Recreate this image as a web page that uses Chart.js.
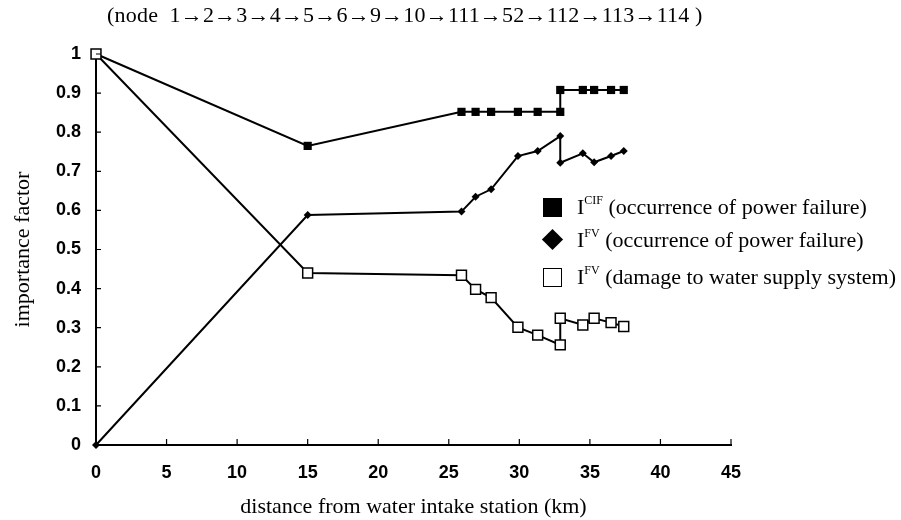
<!DOCTYPE html>
<html>
<head>
<meta charset="utf-8">
<script src="https://cdn.jsdelivr.net/npm/chart.js@4.4.1/dist/chart.umd.min.js"></script>
<style>
  body { margin: 0; background: #fff; }
  #wrap { position: relative; width: 901px; height: 520px; }
  #title {
    position: absolute; left: 107px; top: 2px;
    font: 22px "Liberation Serif"; letter-spacing: 0.2px; white-space: pre; color: #000;
  }
  .legend-row {
    position: absolute; left: 543px; height: 26px; line-height: 26px;
    font: 22px "Liberation Serif"; color: #000; white-space: pre;
  }
  .legend-row sup { font-size: 12px; vertical-align: 10px; line-height: 0; }
  .mk { position: absolute; left: 0; top: 50%; box-sizing: border-box; }
  .mk-sq { width: 19px; height: 19px; margin-top: -9px; background: #000; }
  .mk-dm { width: 15px; height: 15px; margin-top: -8px; margin-left: 2px; background: #000; transform: rotate(45deg); }
  .mk-open { width: 19px; height: 19px; margin-top: -9px; border: 1.5px solid #000; background: #fff; }
  .legend-row span.txt { margin-left: 34px; }
</style>
</head>
<body>
<div id="wrap">
  <canvas id="chart" width="901" height="520"></canvas>
  <div id="title">(node  1→2→3→4→5→6→9→10→111→52→112→113→114 )</div>
  <div class="legend-row" style="top:194px"><div class="mk mk-sq"></div><span class="txt">I<sup>CIF</sup> (occurrence of power failure)</span></div>
  <div class="legend-row" style="top:227px"><div class="mk mk-dm"></div><span class="txt">I<sup>FV</sup> (occurrence of power failure)</span></div>
  <div class="legend-row" style="top:264px"><div class="mk mk-open"></div><span class="txt">I<sup>FV</sup> (damage to water supply system)</span></div>
</div>
<script>
const distance_km = [0, 15, 25.9, 26.9, 28.0, 29.9, 31.3, 32.9, 32.9, 34.5, 35.3, 36.5, 37.4];
const cif_power = [1, 0.765, 0.852, 0.852, 0.852, 0.852, 0.852, 0.852, 0.908, 0.908, 0.908, 0.908, 0.908];
const fv_power = [0, 0.588, 0.597, 0.635, 0.654, 0.739, 0.752, 0.79, 0.722, 0.746, 0.723, 0.739, 0.752];
const fv_damage = [1, 0.44, 0.434, 0.398, 0.377, 0.301, 0.281, 0.256, 0.324, 0.307, 0.324, 0.313, 0.303];
const x_ticks = [0, 5, 10, 15, 20, 25, 30, 35, 40, 45];
const y_ticks = [0, 0.1, 0.2, 0.3, 0.4, 0.5, 0.6, 0.7, 0.8, 0.9, 1];

const toPoints = (values) => values.map((y, i) => ({ x: distance_km[i], y: y }));

// small tick marks pointing into the plot, like the original figure
const innerTicks = {
  id: "innerTicks",
  afterDraw: (chart) => {
    const { ctx, scales } = chart;
    const x = scales.x;
    const y = scales.y;
    ctx.save();
    ctx.strokeStyle = "#000";
    ctx.lineWidth = 1.2;
    ctx.beginPath();
    y_ticks.forEach((v) => {
      const py = y.getPixelForValue(v);
      ctx.moveTo(x.left, py);
      ctx.lineTo(x.left + 5, py);
    });
    x_ticks.forEach((v) => {
      const px = x.getPixelForValue(v);
      ctx.moveTo(px, y.bottom);
      ctx.lineTo(px, y.bottom - 6);
    });
    ctx.stroke();
    ctx.restore();
  },
};

const tickFont = { family: "Liberation Sans", size: 18, weight: "bold" };
const titleFont = { family: "Liberation Serif", size: 22 };

new Chart(document.getElementById("chart"), {
  type: "line",
  data: {
    datasets: [
      {
        label: "FV damage",
        data: toPoints(fv_damage),
        order: 0,
        borderColor: "#000",
        borderWidth: 2,
        pointStyle: "rect",
        pointRadius: 7,
        pointBorderWidth: 1.5,
        pointBackgroundColor: "#fff",
        pointBorderColor: "#000",
        clip: false,
      },
      {
        label: "FV power",
        data: toPoints(fv_power),
        order: 1,
        borderColor: "#000",
        borderWidth: 2,
        pointStyle: "rectRot",
        pointRadius: 4,
        pointBorderWidth: 0,
        pointBackgroundColor: "#000",
        clip: false,
      },
      {
        label: "CIF power",
        data: toPoints(cif_power),
        order: 2,
        borderColor: "#000",
        borderWidth: 2,
        pointStyle: "rect",
        pointRadius: 5.8,
        pointBorderWidth: 0,
        pointBackgroundColor: "#000",
        clip: false,
      },
    ],
  },
  options: {
    responsive: false,
    animation: false,
    layout: { padding: { left: 0, top: 54, right: 170, bottom: 0 } },
    plugins: { legend: { display: false }, tooltip: { enabled: false } },
    elements: { line: { tension: 0 } },
    scales: {
      x: {
        type: "linear",
        min: 0,
        max: 45,
        afterFit: (scale) => { scale.height = 75; },
        afterBuildTicks: (scale) => { scale.ticks = x_ticks.map((v) => ({ value: v })); },
        grid: { display: false, drawTicks: false },
        border: { display: true, color: "#000", width: 2 },
        ticks: { color: "#000", font: tickFont, padding: 17, maxRotation: 0 },
        title: { display: true, text: "distance from water intake station (km)", color: "#000", font: titleFont, padding: { top: 2, bottom: 0 } },
      },
      y: {
        min: 0,
        max: 1,
        afterFit: (scale) => { scale.width = 96; },
        afterBuildTicks: (scale) => { scale.ticks = y_ticks.map((v) => ({ value: v })); },
        grid: { display: false, drawTicks: false },
        border: { display: true, color: "#000", width: 2 },
        ticks: { color: "#000", font: tickFont, padding: 15, callback: (v) => String(Math.round(v * 10) / 10) },
        title: { display: true, text: "importance factor", color: "#000", font: titleFont, padding: { top: 10, bottom: 0 } },
      },
    },
  },
  plugins: [innerTicks],
});
</script>
</body>
</html>
